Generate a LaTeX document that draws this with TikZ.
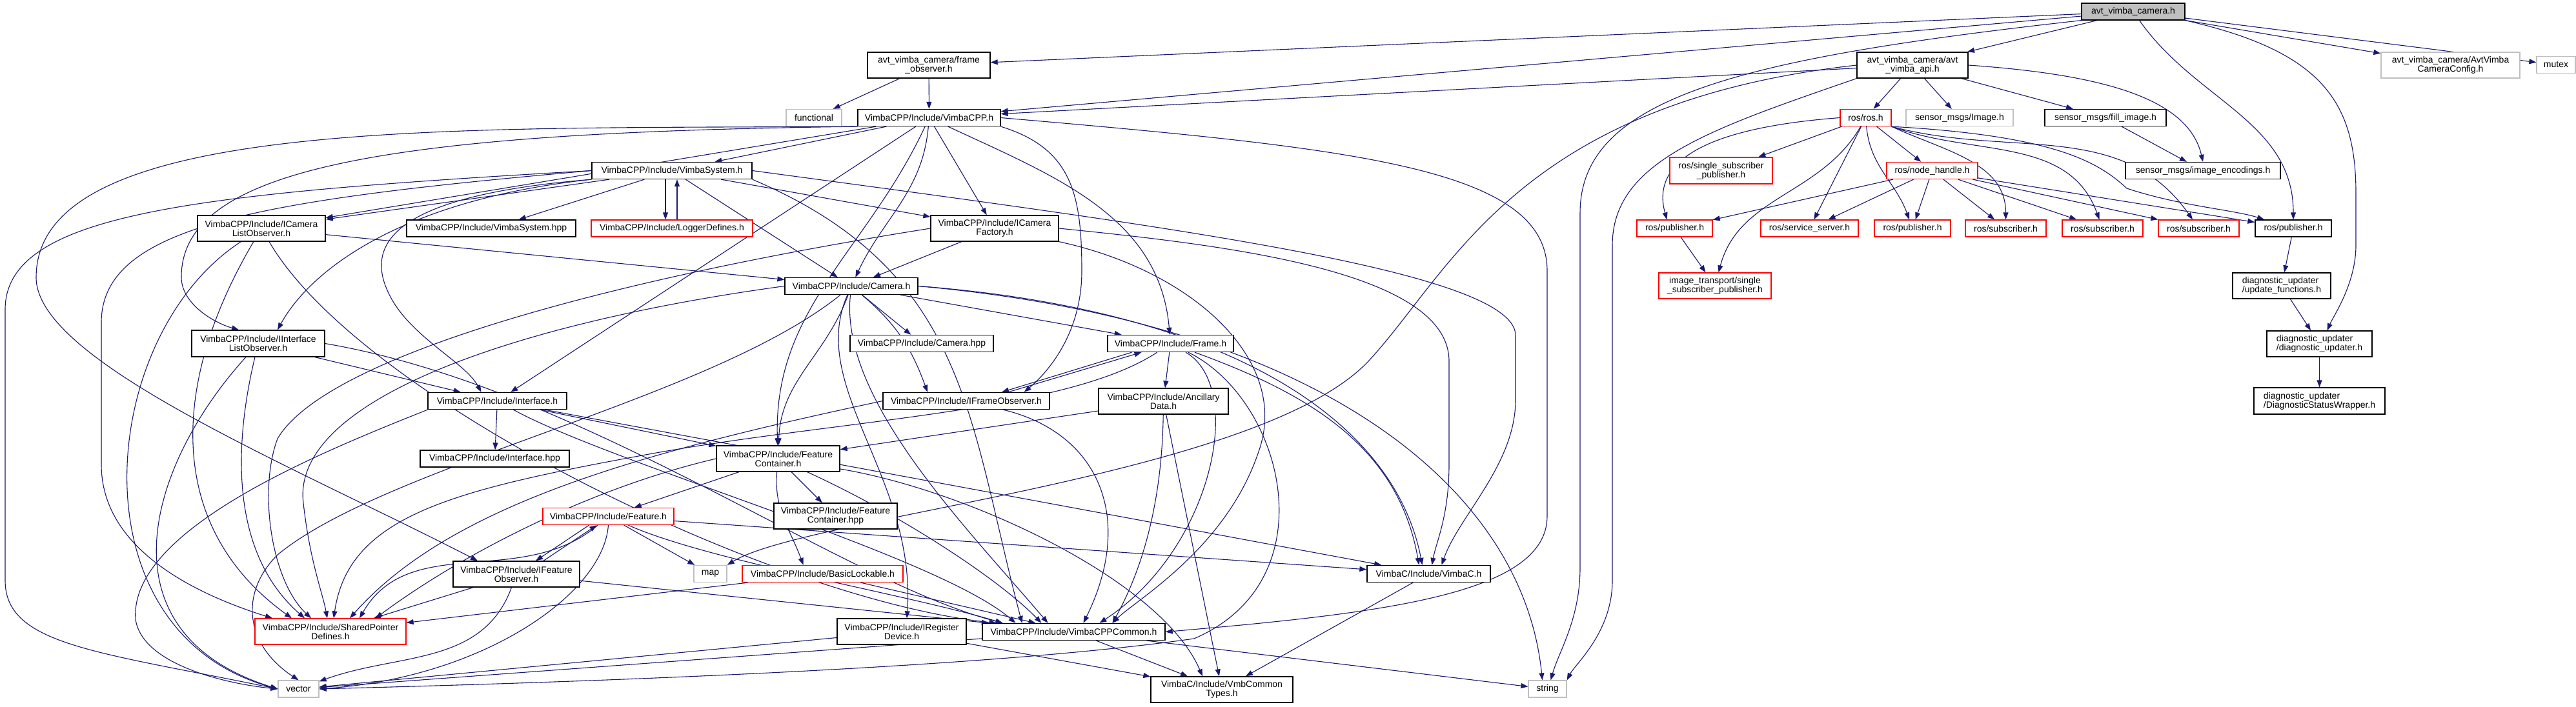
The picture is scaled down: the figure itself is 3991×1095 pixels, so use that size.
\documentclass[tikz,border=0pt]{standalone}
\usepackage{fontspec}
\setmainfont{Liberation Sans}
\usepackage{xcolor}
\definecolor{depblue}{RGB}{25,25,112}
\definecolor{truncred}{RGB}{255,0,0}
\definecolor{extgray}{RGB}{191,191,191}
\usetikzlibrary{arrows.meta}
\pgfdeclarelayer{edges}
\pgfsetlayers{edges,main}
\newcommand{\hdrfont}{\fontsize{14}{14}\selectfont}

\begin{document}
\begin{tikzpicture}[x=1pt,y=1pt,
  hdr/.style={draw=black,line width=1.3pt,fill=white,font=\hdrfont,align=center,
    inner xsep=2pt,inner ysep=1pt,minimum height=26},
  trunc/.style={hdr,draw=truncred},
  ext/.style={hdr,draw=extgray},
  rootbox/.style={hdr,fill=extgray},
  dep/.style={draw=depblue,line width=1.1pt,-{Triangle[length=11pt,width=8pt]}}
]
  \useasboundingbox (0,0) rectangle (3991,-1095);

  % Root file
  \node[rootbox,minimum width=160] (cam) at (3305,-18) {avt\_vimba\_camera.h};

  % Vimba side
  \node[hdr,minimum width=190,minimum height=40] (frameobs) at (1439,-101) {avt\_vimba\_camera/frame\\\_observer.h};
  \node[ext,minimum width=86] (functional) at (1261,-182.5) {functional};
  \node[hdr,minimum width=221] (vcpp) at (1439.5,-182.5) {VimbaCPP/Include/VimbaCPP.h};
  \node[hdr,minimum width=248] (vsys) at (1041,-264.5) {VimbaCPP/Include/VimbaSystem.h};
  \node[hdr,minimum width=198,minimum height=40] (iclo) at (405,-354) {VimbaCPP/Include/ICamera\\ListObserver.h};
  \node[hdr,minimum width=262] (vsyshpp) at (761,-354) {VimbaCPP/Include/VimbaSystem.hpp};
  \node[trunc,minimum width=250] (logger) at (1041,-354) {VimbaCPP/Include/LoggerDefines.h};
  \node[hdr,minimum width=198,minimum height=40] (icf) at (1541,-354) {VimbaCPP/Include/ICamera\\Factory.h};
  \node[hdr,minimum width=206] (camh) at (1319,-443.5) {VimbaCPP/Include/Camera.h};
  \node[hdr,minimum width=222] (camhpp) at (1428,-532.5) {VimbaCPP/Include/Camera.hpp};
  \node[hdr,minimum width=195] (frame) at (1813.5,-532.5) {VimbaCPP/Include/Frame.h};
  \node[hdr,minimum width=206,minimum height=41] (iilo) at (400,-532.5) {VimbaCPP/Include/IInterface\\ListObserver.h};
  \node[hdr,minimum width=215] (iface) at (770.5,-621.5) {VimbaCPP/Include/Interface.h};
  \node[hdr,minimum width=231] (ifacehpp) at (766.5,-711) {VimbaCPP/Include/Interface.hpp};
  \node[hdr,minimum width=258] (ifo) at (1497,-621.5) {VimbaCPP/Include/IFrameObserver.h};
  \node[hdr,minimum width=201,minimum height=40] (anc) at (1802.5,-622) {VimbaCPP/Include/Ancillary\\Data.h};
  \node[hdr,minimum width=191,minimum height=40] (fc) at (1205.5,-711) {VimbaCPP/Include/Feature\\Container.h};
  \node[hdr,minimum width=191,minimum height=40] (fchpp) at (1294.5,-800) {VimbaCPP/Include/Feature\\Container.hpp};
  \node[trunc,minimum width=203] (feat) at (942.5,-800.5) {VimbaCPP/Include/Feature.h};
  \node[ext,minimum width=51] (map) at (1100.5,-889.5) {map};
  \node[trunc,minimum width=249] (blk) at (1274.5,-889.5) {VimbaCPP/Include/BasicLockable.h};
  \node[hdr,minimum width=196,minimum height=40] (ifeo) at (800,-890) {VimbaCPP/Include/IFeature\\Observer.h};
  \node[trunc,minimum width=234,minimum height=40] (sptr) at (512,-979) {VimbaCPP/Include/SharedPointer\\Defines.h};
  \node[hdr,minimum width=200,minimum height=40] (ireg) at (1397,-979) {VimbaCPP/Include/IRegister\\Device.h};
  \node[hdr,minimum width=283] (vcom) at (1663.5,-979.5) {VimbaCPP/Include/VimbaCPPCommon.h};
  \node[hdr,minimum width=191] (vc) at (2213.5,-889.5) {VimbaC/Include/VimbaC.h};
  \node[hdr,minimum width=220,minimum height=40] (vmbt) at (1893,-1069) {VimbaC/Include/VmbCommon\\Types.h};
  \node[ext,minimum width=63] (vector) at (462.5,-1068) {vector};
  \node[ext,minimum width=59] (string) at (2397.5,-1068) {string};

  % ROS side
  \node[hdr,minimum width=172,minimum height=40] (api) at (2963,-101) {avt\_vimba\_camera/avt\\\_vimba\_api.h};
  \node[trunc,minimum width=79] (rosh) at (2890.5,-182.5) {ros/ros.h};
  \node[ext,minimum width=166] (img) at (3036,-182.5) {sensor\_msgs/Image.h};
  \node[hdr,minimum width=188] (fillimg) at (3262,-182.5) {sensor\_msgs/fill\_image.h};
  \node[hdr,minimum width=240] (enc) at (3413,-264.5) {sensor\_msgs/image\_encodings.h};
  \node[trunc,minimum width=159,minimum height=41] (ssp) at (2666.5,-264.5) {ros/single\_subscriber\\\_publisher.h};
  \node[trunc,minimum width=141] (nh) at (2993.5,-264.5) {ros/node\_handle.h};
  \node[trunc,minimum width=117] (pubA) at (2594.5,-354) {ros/publisher.h};
  \node[trunc,minimum width=151] (srv) at (2803.5,-354) {ros/service\_server.h};
  \node[trunc,minimum width=118] (pubB) at (2963,-354) {ros/publisher.h};
  \node[trunc,minimum width=125] (subA) at (3107.5,-354) {ros/subscriber.h};
  \node[trunc,minimum width=125] (subB) at (3257.5,-354) {ros/subscriber.h};
  \node[trunc,minimum width=125] (subC) at (3406.5,-354) {ros/subscriber.h};
  \node[hdr,minimum width=118] (pubC) at (3553,-354) {ros/publisher.h};
  \node[trunc,minimum width=174,minimum height=40] (itssp) at (2657,-443) {image\_transport/single\\\_subscriber\_publisher.h};
  \node[hdr,align=left,minimum width=152,minimum height=40] (updfun) at (3535,-443) {diagnostic\_updater\\/update\_functions.h};
  \node[hdr,align=left,minimum width=163,minimum height=40] (diagupd) at (3593.5,-533) {diagnostic\_updater\\/diagnostic\_updater.h};
  \node[hdr,align=left,minimum width=203,minimum height=41] (wrapper) at (3593.5,-621.5) {diagnostic\_updater\\/DiagnosticStatusWrapper.h};
  \node[ext,minimum width=215,minimum height=40] (config) at (3796.5,-101) {avt\_vimba\_camera/AvtVimba\\CameraConfig.h};
  \node[ext,minimum width=60] (mutex) at (3960,-100.5) {mutex};

  \begin{pgfonlayer}{edges}
  \fill[white] (0,0) rectangle (3991,-1095);

  % avt_vimba_camera.h
  \draw[dep] (cam) -- (frameobs);
  \draw[dep] (cam) -- (vcpp);
  \draw[dep] (cam) -- (api);
  \draw[dep] (cam.south west) .. controls (2700,-90) and (2448,-150) .. (2448,-330) -- (2448,-880) .. controls (2448,-960) and (2415,-1010) .. ([xshift=5]string.north);
  \draw[dep] (cam) to[out=-55,in=90] (pubC);
  \draw[dep] (cam.south east) .. controls (3600,-80) and (3650,-160) .. (3650,-300) -- (3650,-380) .. controls (3650,-440) and (3615,-490) .. ([xshift=12]diagupd.north);
  \draw[dep] (cam) -- (config);
  \draw[dep] (cam) -- (mutex);

  % avt_vimba_api.h
  \draw[dep] (api) -- (vcpp);
  \draw[dep] (api.west) .. controls (2350,-160) and (2250,-420) .. (2120,-560) .. controls (1950,-740) and (1250,-800) .. (map.north east);
  \draw[dep] (api.south west) .. controls (2650,-200) and (2498,-250) .. (2498,-380) -- (2498,-900) .. controls (2498,-980) and (2440,-1030) .. (string.north east);
  \draw[dep] (api) -- (rosh);
  \draw[dep] (api) -- (img);
  \draw[dep] (api) -- (fillimg);
  \draw[dep] (api.east) .. controls (3250,-115) and (3390,-150) .. (enc.north);

  % ros/ros.h
  \draw[dep] (rosh.west) .. controls (2620,-200) and (2560,-260) .. ([xshift=-12]pubA.north);
  \draw[dep] (rosh) -- (ssp);
  \draw[dep] (rosh) to[out=-120,in=75] (itssp);
  \draw[dep] (rosh) -- (srv);
  \draw[dep] (rosh) to[out=-85,in=110] (pubB);
  \draw[dep] (rosh) -- (nh);
  \draw[dep] (rosh.south east) to[out=-25,in=90] (subA);
  \draw[dep] (rosh.south east) to[out=-20,in=110] (subB);
  \draw[dep] (rosh.south east) to[out=-15,in=125] (subC);
  \draw[dep] (rosh.south east) .. controls (3180,-210) and (3250,-250) .. (3295,-292) .. controls (3380,-320) and (3460,-325) .. ([xshift=-45]pubC.north);

  % ros/node_handle.h
  \draw[dep] (nh) -- (pubA);
  \draw[dep] (nh) -- (srv);
  \draw[dep] (nh) -- (pubB);
  \draw[dep] (nh) -- (subA);
  \draw[dep] (nh) -- (subB);
  \draw[dep] (nh) -- (subC);
  \draw[dep] (nh) -- (pubC);

  \draw[dep] (pubA) -- (itssp);
  \draw[dep] (fillimg) -- (enc);
  \draw[dep] (pubC) -- (updfun);
  \draw[dep] (updfun) -- (diagupd);
  \draw[dep] (diagupd) -- (wrapper);

  % frame_observer.h
  \draw[dep] (frameobs) -- (functional);
  \draw[dep] (frameobs) -- (vcpp);

  % VimbaCPP.h
  \draw[dep] (vcpp.south west) .. controls (700,-200) and (56,-180) .. (56,-430) .. controls (56,-560) and (450,-720) .. ([xshift=-60]ifeo.north);
  \draw[dep] (vcpp.south west) .. controls (600,-205) and (280,-260) .. (281,-430) .. controls (281,-470) and (330,-500) .. ([xshift=-30]iilo.north);
  \draw[dep] (vcpp) -- (iclo);
  \draw[dep] (vcpp) -- (vsys);
  \draw[dep] (vcpp) -- (iface);
  \draw[dep] (vcpp) to[out=-115,in=92] (fc);
  \draw[dep] (vcpp) to[out=-95,in=65] (camh);
  \draw[dep] (vcpp) -- (icf);
  \draw[dep] (vcpp.south east) .. controls (1660,-230) and (1676,-300) .. (1676,-420) .. controls (1676,-520) and (1620,-580) .. ([xshift=-40]ifo.north east);
  \draw[dep] (vcpp) to[out=-25,in=95] (frame);
  \draw[dep] (vcpp.east) .. controls (2100,-230) and (2397,-260) .. (2397,-420) -- (2397,-800) .. controls (2397,-920) and (2150,-950) .. (vcom.east);

  % VimbaSystem.h
  \draw[dep] (vsys.west) .. controls (300,-300) and (8,-330) .. (8,-480) -- (8,-900) .. controls (8,-1000) and (150,-1010) .. (vector.west);
  \draw[dep] (vsys.west) .. controls (400,-310) and (157,-350) .. (157,-500) -- (157,-720) .. controls (157,-850) and (300,-920) .. ([xshift=-90]sptr.north);
  \draw[dep] (vsys) -- (iclo);
  \draw[dep] (vsys.south west) .. controls (620,-310) and (480,-420) .. ([xshift=30]iilo.north);
  \draw[dep] (vsys.south west) .. controls (650,-300) and (560,-360) .. (600,-450) .. controls (630,-520) and (720,-560) .. ([xshift=-25]iface.north);
  \draw[dep] (vsys) -- (vsyshpp);
  \draw[dep] ([xshift=-10]vsys.south) -- ([xshift=-10]logger.north);
  \draw[dep] ([xshift=8]logger.north) -- ([xshift=8]vsys.south);
  \draw[dep] (vsys) -- (camh);
  \draw[dep] (vsys.south east) .. controls (1500,-420) and (1500,-650) .. ([xshift=-80]vcom.north);
  \draw[dep] (vsys) -- (icf);
  \draw[dep] (vsys.east) .. controls (1800,-350) and (2348,-420) .. (2348,-520) -- (2348,-620) .. controls (2348,-720) and (2260,-800) .. ([xshift=20]vc.north);

  % ICameraListObserver.h
  \draw[dep] (iclo) -- (camh);
  \draw[dep] (iclo) .. controls (150,-520) and (110,-980) .. (vector.west);
  \draw[dep] (iclo) .. controls (260,-600) and (260,-820) .. ([xshift=-60]sptr.north);
  \draw[dep] (iclo) .. controls (560,-620) and (1200,-930) .. ([xshift=-120]vcom.north);

  % IInterfaceListObserver.h
  \draw[dep] (iilo) -- (iface);
  \draw[dep] (iilo) .. controls (230,-720) and (150,-980) .. (vector.west);
  \draw[dep] (iilo) .. controls (360,-700) and (360,-860) .. ([xshift=-40]sptr.north);
  \draw[dep] (iilo.east) .. controls (900,-600) and (1300,-900) .. ([xshift=-110]vcom.north);

  % ICameraFactory.h
  \draw[dep] (icf) -- (camh);
  \draw[dep] (icf.west) .. controls (900,-440) and (500,-560) .. (430,-680) .. controls (400,-760) and (420,-900) .. ([xshift=-30]sptr.north);
  \draw[dep] (icf.east) .. controls (1900,-380) and (2245,-420) .. (2245,-560) -- (2245,-720) .. controls (2245,-800) and (2225,-840) .. ([xshift=5]vc.north);
  \draw[dep] (icf.south east) .. controls (1850,-420) and (2000,-560) .. (1950,-700) .. controls (1900,-850) and (1760,-930) .. ([xshift=60]vcom.north);

  % Camera.h
  \draw[dep] (camh) -- (camhpp);
  \draw[dep] (camh) -- (frame);
  \draw[dep] (camh.west) .. controls (800,-500) and (450,-620) .. (470,-780) .. controls (480,-870) and (500,-920) .. ([xshift=-5]sptr.north);
  \draw[dep] (camh) .. controls (1100,-620) and (600,-720) .. (430,-860) .. controls (370,-920) and (380,-1000) .. (vector.north);
  \draw[dep] (camh) to[out=-110,in=88] (fc);
  \draw[dep] (camh) .. controls (1250,-600) and (1420,-740) .. ([xshift=8]ireg.north);
  \draw[dep] (camh) .. controls (1300,-620) and (1500,-820) .. ([xshift=-40]vcom.north);
  \draw[dep] (camh) to[out=-40,in=110] ([xshift=-60]ifo.north);
  \draw[dep] (camh.east) .. controls (1900,-480) and (2160,-650) .. ([xshift=-10]vc.north);
  \draw[dep] (camh.east) .. controls (2050,-500) and (2360,-760) .. ([xshift=-8]string.north);

  % Frame.h
  \draw[dep] (frame) -- (anc);
  \draw[dep] ([xshift=-60]frame.south) -- ([xshift=55]ifo.north);
  \draw[dep] ([xshift=65]ifo.north) -- ([xshift=-45]frame.south);
  \draw[dep] (frame) .. controls (1930,-600) and (1880,-850) .. ([xshift=40]vcom.north);
  \draw[dep] (frame) .. controls (1990,-620) and (2060,-900) .. (1850,-990) .. controls (1500,-1040) and (800,-1060) .. (vector.east);
  \draw[dep] (frame) to[out=-20,in=100] ([xshift=-15]vc.north);
  \draw[dep] (frame) .. controls (1650,-640) and (1300,-650) .. (1000,-705) .. controls (700,-760) and (540,-800) .. ([xshift=5]sptr.north);

  % IFrameObserver.h
  \draw[dep] (ifo.west) .. controls (1000,-700) and (700,-780) .. ([xshift=30]sptr.north);
  \draw[dep] (ifo) .. controls (1700,-670) and (1760,-800) .. ([xshift=15]vcom.north);

  % AncillaryData.h
  \draw[dep] (anc) -- (fc);
  \draw[dep] (anc) .. controls (1800,-800) and (1760,-900) .. ([xshift=60]vcom.north);
  \draw[dep] (anc) -- (vmbt);

  % Interface.h
  \draw[dep] (iface) -- (ifacehpp);
  \draw[dep] (iface) -- (fc);
  \draw[dep] (iface) -- (vc);
  \draw[dep] (iface) .. controls (950,-720) and (1450,-860) .. ([xshift=-90]vcom.north);
  \draw[dep] (iface.south west) .. controls (500,-700) and (200,-820) .. (210,-960) .. controls (220,-1030) and (350,-1060) .. (vector.west);

  % FeatureContainer.h
  \draw[dep] (fc) -- (fchpp);
  \draw[dep] (fc) -- (feat);
  \draw[dep] (fc) to[out=-95,in=110] ([xshift=-30]blk.north);
  \draw[dep] (fc) .. controls (1400,-800) and (1550,-900) .. ([xshift=-50]vcom.north);
  \draw[dep] (fc.west) .. controls (900,-760) and (700,-870) .. ([xshift=70]sptr.north);
  \draw[dep] (fc) .. controls (1500,-760) and (1800,-900) .. ([xshift=-30]vmbt.north);

  % Feature.h
  \draw[dep] (feat) -- (map);
  \draw[dep] ([xshift=-30]feat.south) -- ([xshift=30]ifeo.north);
  \draw[dep] ([xshift=42]ifeo.north) -- ([xshift=-18]feat.south);
  \draw[dep] (feat) to[out=-140,in=60] ([xshift=45]sptr.north);
  \draw[dep] (feat.south) .. controls (935,-920) and (750,-1050) .. (vector.east);
  \draw[dep] (feat) -- (vc);
  \draw[dep] (feat) .. controls (1100,-870) and (1400,-920) .. ([xshift=-110]vcom.north);

  % IFeatureObserver.h
  \draw[dep] (ifeo) -- (sptr);
  \draw[dep] (ifeo) to[out=-110,in=20] (vector);
  \draw[dep] (ifeo) -- (vcom);

  % BasicLockable.h
  \draw[dep] (blk) -- (sptr);
  \draw[dep] (blk) -- (vcom);

  % IRegisterDevice.h
  \draw[dep] (ireg) -- (vector);
  \draw[dep] (ireg) -- (vmbt);

  % VimbaCPPCommon.h
  \draw[dep] (vcom) -- (vmbt);
  \draw[dep] (vcom) -- (string);
  \draw[dep] (vcom) -- (vector);

  % VimbaC.h
  \draw[dep] (vc) -- (vmbt);
  \end{pgfonlayer}
\end{tikzpicture}
\end{document}
